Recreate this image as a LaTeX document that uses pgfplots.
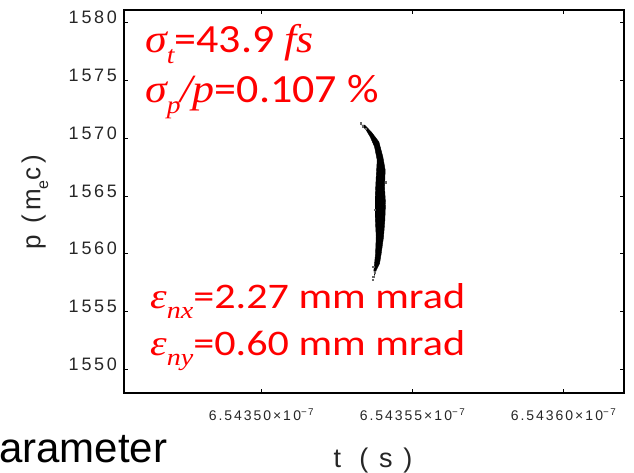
\documentclass[border=0pt]{standalone}
\usepackage{pgfplots}
\pgfplotsset{compat=1.18}
\usepackage{fontspec}
\setmainfont{Carlito}
\newfontfamily\tnr{Liberation Serif}
\newfontfamily\tickfont[LetterSpace=14]{Liberation Sans}
\newfontfamily\labfont[LetterSpace=40]{Liberation Sans}
\newfontfamily\ylabfont[LetterSpace=16]{Liberation Sans}
\newfontfamily\arial{Liberation Sans}
\definecolor{myred}{RGB}{255,0,0}
\newcommand{\ti}[1]{{\tnr\itshape #1}}
\begin{document}
\begin{tikzpicture}[x=1pt,y=1pt]
\path[use as bounding box] (0,0) rectangle (634,472);
\clip (0,0) rectangle (634,472);
\begin{axis}[
  at={(124pt,79pt)}, anchor=south west,
  width=500pt, height=383pt, scale only axis,
  xmin=-4.55, xmax=12.0, ymin=1547.95, ymax=1581.1,
  xtick={0,5,10},
  xticklabels={6.54350×1\,0\textsuperscript{−7},6.54355×1\,0\textsuperscript{−7},6.54360×1\,0\textsuperscript{−7}},
  ytick={1550,1555,1560,1565,1570,1575,1580},
  yticklabels={1\,550,1\,555,1\,560,1\,565,1\,570,1\,575,1\,580},
  tick align=inside, major tick length=4pt,
  axis line style={line width=1.1pt, black},
  tick style={line width=0.8pt, black},
  xticklabel style={anchor=base, inner sep=0pt, yshift=-27.7pt, font=\tickfont\fontsize{14}{14}\selectfont, text=black!85},
  yticklabel style={anchor=base east, inner sep=0pt, xshift=-7pt, yshift=-1pt, font=\tickfont\fontsize{18}{18}\selectfont, text=black!85},
  clip=false,
]
\addplot[fill=black, draw=black, line width=0.4pt] coordinates {
(3.324,1571.14) (3.468,1570.70) (3.600,1570.12) (3.743,1569.26) (3.831,1568.10)
(3.798,1566.66) (3.765,1564.92) (3.765,1563.19) (3.798,1561.46) (3.776,1560.01)
(3.743,1559.15) (3.721,1558.57) (3.743,1558.14) (3.798,1558.57) (3.908,1559.15)
(3.963,1560.01) (4.040,1561.46) (4.084,1562.90) (4.106,1564.35) (4.073,1565.79)
(4.096,1567.24) (4.018,1568.39) (3.886,1569.69) (3.633,1570.56) (3.413,1571.14)
(3.324,1571.14)
};
\addplot[only marks, mark=square*, mark size=0.6pt, black!60] coordinates {
(3.28,1571.30) (3.36,1571.05) (3.45,1570.85) (3.70,1558.05) (3.69,1557.75)
(3.76,1558.40) (3.70,1558.90) (4.10,1566.20) (3.74,1563.80)
};
\end{axis}
% axis labels
\node[anchor=base, inner sep=0pt, text=black!85] at (373,5) {\labfont\fontsize{27}{27}\selectfont t (s)};
\node[rotate=90, anchor=center, inner sep=0pt, text=black!85] at (35,270) {\ylabfont\fontsize{26}{26}\selectfont p (m\raisebox{-0.3em}{\fontsize{16}{16}\selectfont e}c)};
% annotations
\node[anchor=base west, inner sep=0pt, text=myred, xscale=1.1] at (145,419)
  {\fontsize{40}{40}\selectfont \ti{σ}\raisebox{-11pt}{\fontsize{25}{25}\selectfont\ti{t}}=43.9 \ti{fs}};
\node[anchor=base west, inner sep=0pt, text=myred, xscale=1.1] at (145,369)
  {\fontsize{40}{40}\selectfont \ti{σ}\raisebox{-11pt}{\fontsize{25}{25}\selectfont\ti{p}}\ti{/p}=0.107 \%};
\node[anchor=base west, inner sep=0pt, text=myred, xscale=1.17] at (150,164)
  {\fontsize{36}{36}\selectfont \ti{ε}\raisebox{-10pt}{\fontsize{24}{24}\selectfont\ti{nx}}=2.27 mm mrad};
\node[anchor=base west, inner sep=0pt, text=myred, xscale=1.17] at (150,117)
  {\fontsize{36}{36}\selectfont \ti{ε}\raisebox{-10pt}{\fontsize{24}{24}\selectfont\ti{ny}}=0.60 mm mrad};
\node[anchor=base west, inner sep=0pt] at (-29,10) {\arial\fontsize{42}{42}\selectfont Parameter};
\end{tikzpicture}
\end{document}
